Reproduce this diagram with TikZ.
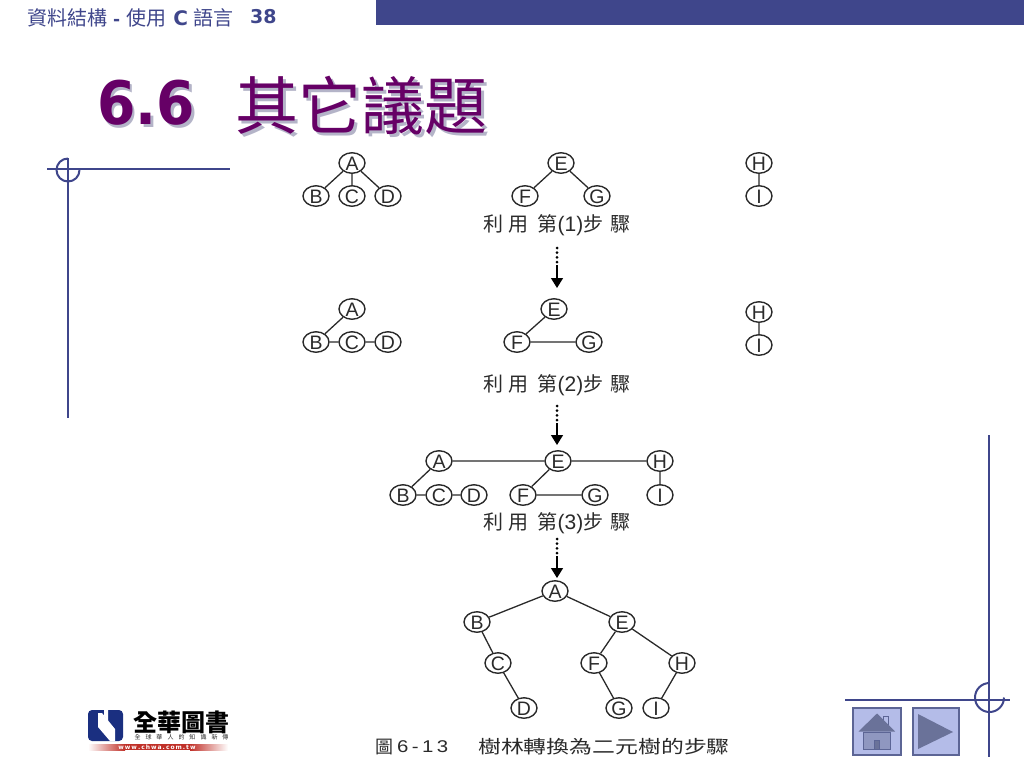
\documentclass[tikz,border=0pt]{standalone}
\usepackage{fontspec}
\setmainfont{Noto Sans CJK TC}
\newfontfamily\latinfont{DejaVu Sans}
\newfontfamily\nodefont{Liberation Sans}
\usetikzlibrary{shapes.geometric,arrows.meta}
\definecolor{slidebar}{HTML}{3F468B}
\definecolor{titlepurple}{HTML}{660066}
\definecolor{titleshadow}{HTML}{B4B4C8}
\definecolor{inkgrey}{HTML}{2A2A2A}
\definecolor{btnfill}{HTML}{B4BCE8}
\definecolor{btnline}{HTML}{5C6595}
\definecolor{btndark}{HTML}{6A7299}
\definecolor{btnmid}{HTML}{8F97C0}
\definecolor{logoblue}{HTML}{1A2F80}
\definecolor{logored}{HTML}{C03028}
\newcommand{\slideshadow}[1]{\rlap{\hspace{3pt}\raisebox{-3pt}{\textcolor{titleshadow}{#1}}}\textcolor{titlepurple}{#1}}
\newcommand{\stepwords}[1]{利\hspace{5pt}用\hspace{9pt}第{\nodefont\fontsize{21}{21}\selectfont(#1)}步\hspace{7pt}驟}
\tikzset{
  tn/.style={draw=inkgrey,ellipse,line width=1.4pt,minimum width=26pt,minimum height=20.5pt,inner sep=0pt,
    font=\nodefont\fontsize{19.5}{19.5}\selectfont,text=inkgrey,text height=14pt,text depth=0pt},
  ln/.style={draw=inkgrey,line width=1.3pt},
  rule/.style={draw=slidebar,line width=2pt},
  steplabel/.style={text=inkgrey,font=\fontsize{20}{20}\selectfont,inner sep=0pt},
  dotted arrow/.style={draw=black,line width=1.4pt,-{Triangle[length=10pt,width=12pt]}},
  dotline/.style={draw=black,line width=3pt,line cap=round,dash pattern=on 0pt off 4.7pt},
  headtext/.style={text=slidebar,inner sep=0pt,anchor=west},
}
\begin{document}
\begin{tikzpicture}[x=1pt,y=-1pt]
\useasboundingbox (0,0) rectangle (1024,768);
% slide furniture
\fill[slidebar] (376,0) rectangle (1024,25);
\node[headtext] (head) at (27,18) {\fontsize{20}{20}\selectfont 資料結構\hspace{6pt}{\latinfont\bfseries\fontsize{17}{17}\selectfont -}\hspace{6pt}使用\hspace{7pt}{\latinfont\bfseries\fontsize{20}{20}\selectfont C}\hspace{6pt}語言};
\node[headtext] (page) at (250,17) {\latinfont\bfseries\fontsize{19}{19}\selectfont 38};
\node[inner sep=0pt,anchor=west,xscale=.92] (t1) at (97,104) {\latinfont\bfseries\fontsize{60}{60}\selectfont\slideshadow{6.6}};
\node[inner sep=0pt,anchor=west] (t2) at (235,107) {\fontsize{63}{63}\selectfont\slideshadow{其它議題}};
\draw[rule] (47,169) -- (230,169);
\draw[rule] (68,158) -- (68,418);
\draw[rule] (68,158.5) arc[start angle=90,end angle=360,radius=11.5pt];
\draw[rule] (845,700) -- (1010,700);
\draw[rule] (989,435) -- (989,757);
\draw[rule] (989.5,683) arc[start angle=90,end angle=360,radius=14.5pt];
% buttons
\draw[draw=btnline,fill=btnfill,line width=1.2pt] (853,708) rectangle (901,755);
\draw[draw=btnline,fill=btnfill,line width=1.2pt] (913,708) rectangle (959,755);
\fill[btndark] (918,714) -- (953,732) -- (918,749) -- cycle;
\draw[draw=btnline,fill=btnfill,line width=1pt] (883,716) rectangle (888,726);
\fill[btndark] (858.5,731.5) -- (877,713.5) -- (895,731.5) -- cycle;
\draw[draw=btnline,fill=btnmid,line width=.8pt] (863,732) rectangle (890,749);
\draw[draw=btnline,fill=btndark,line width=.8pt] (874,740) rectangle (879,749);
% logo
\fill[logoblue,rounded corners=4pt] (88,710) rectangle (123,741);
\fill[white] (98,713) -- (102,713) -- (115,729) -- (115,741) -- (110,741) -- (98,727) -- cycle;
\fill[white] (104,710) -- (108,710) -- (108,721) -- (104,716) -- cycle;
\node[inner sep=0pt,text=black] (logotext) at (181.5,722.5) {\bfseries\fontsize{24}{24}\selectfont 全華圖書};
\node[inner sep=0pt,text=inkgrey] (logoslogan) at (181.5,737.5) {\fontsize{6}{6}\selectfont 全\hspace{5pt}球\hspace{5pt}華\hspace{5pt}人\hspace{5pt}的\hspace{5pt}知\hspace{5pt}識\hspace{5pt}新\hspace{5pt}傳};
\shade[left color=white,right color=logored] (88,744) rectangle (125,750);
\fill[logored] (125,744) rectangle (190,750);
\shade[left color=logored,right color=white] (190,744) rectangle (228,750);
\node[inner sep=0pt,text=white] (logourl) at (157,747) {\latinfont\bfseries\fontsize{6}{6}\selectfont w\,w\,w\,.\,c\,h\,w\,a\,.\,c\,o\,m\,.\,t\,w};
% row 1
\node[tn] (a1) at (352,163) {A};
\node[tn] (b1) at (316,196) {B};
\node[tn] (c1) at (352,196) {C};
\node[tn] (d1) at (388,196) {D};
\node[tn] (e1) at (561,163) {E};
\node[tn] (f1) at (525,196) {F};
\node[tn] (g1) at (597,196) {G};
\node[tn] (h1) at (759,163) {H};
\node[tn] (i1) at (759,196) {I};
\draw[ln] (a1)--(b1) (a1)--(c1) (a1)--(d1) (e1)--(f1) (e1)--(g1) (h1)--(i1);
\node[steplabel] (s1) at (557,225) {\stepwords{1}};
% row 2
\node[tn] (a2) at (352,309) {A};
\node[tn] (b2) at (316,342) {B};
\node[tn] (c2) at (352,342) {C};
\node[tn] (d2) at (388,342) {D};
\node[tn] (e2) at (554,309) {E};
\node[tn] (f2) at (517,342) {F};
\node[tn] (g2) at (589,342) {G};
\node[tn] (h2) at (759,312) {H};
\node[tn] (i2) at (759,345) {I};
\draw[ln] (a2)--(b2) (b2)--(c2) (c2)--(d2) (e2)--(f2) (f2)--(g2) (h2)--(i2);
\node[steplabel] (s2) at (557,385) {\stepwords{2}};
% row 3
\node[tn] (a3) at (439,461) {A};
\node[tn] (e3) at (558,461) {E};
\node[tn] (h3) at (660,461) {H};
\node[tn] (b3) at (403,495) {B};
\node[tn] (c3) at (439,495) {C};
\node[tn] (d3) at (474,495) {D};
\node[tn] (f3) at (523,495) {F};
\node[tn] (g3) at (595,495) {G};
\node[tn] (i3) at (660,495) {I};
\draw[ln] (a3)--(e3) (e3)--(h3) (a3)--(b3) (b3)--(c3) (c3)--(d3) (e3)--(f3) (f3)--(g3) (h3)--(i3);
\node[steplabel] (s3) at (557,523) {\stepwords{3}};
% row 4
\node[tn] (a4) at (555,591) {A};
\node[tn] (b4) at (477,622) {B};
\node[tn] (e4) at (622,622) {E};
\node[tn] (c4) at (498,663) {C};
\node[tn] (f4) at (594,663) {F};
\node[tn] (h4) at (682,663) {H};
\node[tn] (d4) at (524,708) {D};
\node[tn] (g4) at (619,708) {G};
\node[tn] (i4) at (656,708) {I};
\draw[ln] (a4)--(b4) (a4)--(e4) (b4)--(c4) (c4)--(d4) (e4)--(f4) (e4)--(h4) (f4)--(g4) (h4)--(i4);
% arrows between steps
\coordinate (p1a) at (557,248); \coordinate (p1b) at (557,263); \coordinate (p1c) at (557,288);
\coordinate (p2a) at (557,406); \coordinate (p2b) at (557,421); \coordinate (p2c) at (557,445);
\coordinate (p3a) at (557,539); \coordinate (p3b) at (557,554); \coordinate (p3c) at (557,578);
\draw[dotline] (p1a)--(p1b); \draw[dotted arrow] (p1b)++(0,2)--(p1c);
\draw[dotline] (p2a)--(p2b); \draw[dotted arrow] (p2b)++(0,2)--(p2c);
\draw[dotline] (p3a)--(p3b); \draw[dotted arrow] (p3b)++(0,2)--(p3c);
% caption
\node[inner sep=0pt,anchor=west,text=inkgrey,font=\fontsize{18}{18}\selectfont] (capa) at (375,747) {圖};
\node[inner sep=0pt,anchor=west,text=inkgrey,xscale=1.2,font=\nodefont\fontsize{17}{17}\selectfont] (capb) at (397,746.5) {6\,-\,1\,3};
\node[inner sep=0pt,anchor=west,text=inkgrey,xscale=1.27,font=\fontsize{18}{18}\selectfont] (capc) at (478,747) {樹林轉換為二元樹的步驟};
\end{tikzpicture}
\end{document}
